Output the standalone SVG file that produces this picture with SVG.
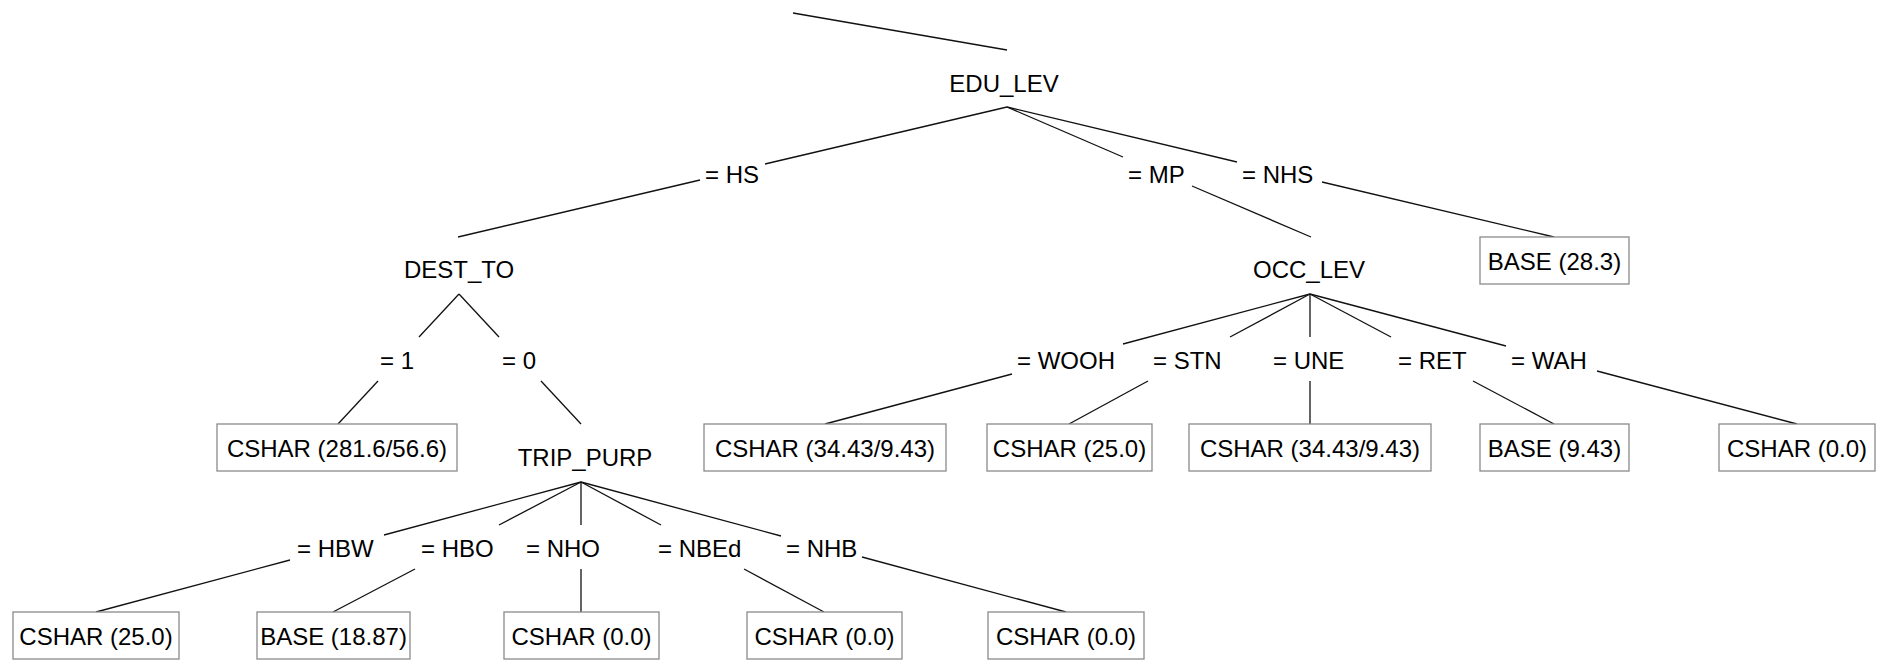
<svg xmlns="http://www.w3.org/2000/svg" width="1883" height="661" viewBox="0 0 1883 661">
<style>
text{font-family:"Liberation Sans",Arial,sans-serif;font-size:24px;fill:#000}
.m{text-anchor:middle}
.box{fill:#fff;stroke:#8a8a8a;stroke-width:1.3}
#edges line{stroke:#111;stroke-width:1.3}
</style>
<rect width="1883" height="661" fill="#fff"/>
<g id="edges">
<line x1="793" y1="13" x2="1007" y2="50"/>
<line x1="1007" y1="107" x2="765" y2="164"/><line x1="700" y1="180" x2="458" y2="237"/>
<line x1="1007" y1="107" x2="1123" y2="157"/><line x1="1192" y1="186" x2="1311" y2="237"/>
<line x1="1007" y1="107" x2="1237" y2="162"/><line x1="1322" y1="182" x2="1554" y2="237"/>
<line x1="459" y1="294" x2="419" y2="337"/><line x1="378" y1="381" x2="338" y2="424"/>
<line x1="459" y1="294" x2="499" y2="337"/><line x1="541" y1="381" x2="581" y2="424"/>
<line x1="1310" y1="294" x2="1123" y2="344"/><line x1="1012" y1="374" x2="825" y2="424"/>
<line x1="1310" y1="294" x2="1230" y2="337"/><line x1="1148" y1="381" x2="1069" y2="424"/>
<line x1="1310" y1="294" x2="1310" y2="337"/><line x1="1310" y1="381" x2="1310" y2="424"/>
<line x1="1310" y1="294" x2="1391" y2="337"/><line x1="1473" y1="381" x2="1554" y2="424"/>
<line x1="1310" y1="294" x2="1506" y2="346"/><line x1="1597" y1="371" x2="1797" y2="424"/>
<line x1="581" y1="482" x2="384" y2="535"/><line x1="290" y1="560" x2="96" y2="612"/>
<line x1="581" y1="482" x2="499" y2="525"/><line x1="415" y1="569" x2="333" y2="612"/>
<line x1="581" y1="482" x2="581" y2="525"/><line x1="581" y1="569" x2="581" y2="612"/>
<line x1="581" y1="482" x2="661" y2="525"/><line x1="744" y1="569" x2="824" y2="612"/>
<line x1="581" y1="482" x2="781" y2="536"/><line x1="862" y1="557" x2="1066" y2="612"/>
</g>
<g id="labels">
<text x="705" y="183">= HS</text>
<text x="1128" y="183">= MP</text>
<text x="1242" y="183">= NHS</text>
<text x="380" y="369">= 1</text>
<text x="502" y="369">= 0</text>
<text x="1017" y="369">= WOOH</text>
<text x="1153" y="369">= STN</text>
<text x="1273" y="369">= UNE</text>
<text x="1398" y="369">= RET</text>
<text x="1511" y="369">= WAH</text>
<text x="297" y="557">= HBW</text>
<text x="421" y="557">= HBO</text>
<text x="526" y="557">= NHO</text>
<text x="658" y="557">= NBEd</text>
<text x="786" y="557">= NHB</text>
</g>
<g id="n-edu"><text class="m" x="1004" y="92">EDU_LEV</text></g>
<g id="n-dest"><text class="m" x="459" y="278">DEST_TO</text></g>
<g id="n-occ"><text class="m" x="1309" y="278">OCC_LEV</text></g>
<g id="n-trip"><text class="m" x="585" y="466">TRIP_PURP</text></g>
<g id="l-nhs"><rect class="box" x="1480" y="237" width="149" height="47"/><text class="m" x="1554.5" y="270">BASE (28.3)</text></g>
<g id="l-d1"><rect class="box" x="217" y="424" width="240" height="47"/><text class="m" x="337" y="457">CSHAR (281.6/56.6)</text></g>
<g id="l-wooh"><rect class="box" x="704" y="424" width="242" height="47"/><text class="m" x="825" y="457">CSHAR (34.43/9.43)</text></g>
<g id="l-stn"><rect class="box" x="987" y="424" width="165" height="47"/><text class="m" x="1069.5" y="457">CSHAR (25.0)</text></g>
<g id="l-une"><rect class="box" x="1189" y="424" width="242" height="47"/><text class="m" x="1310" y="457">CSHAR (34.43/9.43)</text></g>
<g id="l-ret"><rect class="box" x="1480" y="424" width="149" height="47"/><text class="m" x="1554.5" y="457">BASE (9.43)</text></g>
<g id="l-wah"><rect class="box" x="1719" y="424" width="156" height="47"/><text class="m" x="1797" y="457">CSHAR (0.0)</text></g>
<g id="l-hbw"><rect class="box" x="13" y="612" width="166" height="47"/><text class="m" x="96" y="645">CSHAR (25.0)</text></g>
<g id="l-hbo"><rect class="box" x="257" y="612" width="153" height="47"/><text class="m" x="333.5" y="645">BASE (18.87)</text></g>
<g id="l-nho"><rect class="box" x="504" y="612" width="155" height="47"/><text class="m" x="581.5" y="645">CSHAR (0.0)</text></g>
<g id="l-nbed"><rect class="box" x="747" y="612" width="155" height="47"/><text class="m" x="824.5" y="645">CSHAR (0.0)</text></g>
<g id="l-nhb"><rect class="box" x="988" y="612" width="156" height="47"/><text class="m" x="1066" y="645">CSHAR (0.0)</text></g>
</svg>
